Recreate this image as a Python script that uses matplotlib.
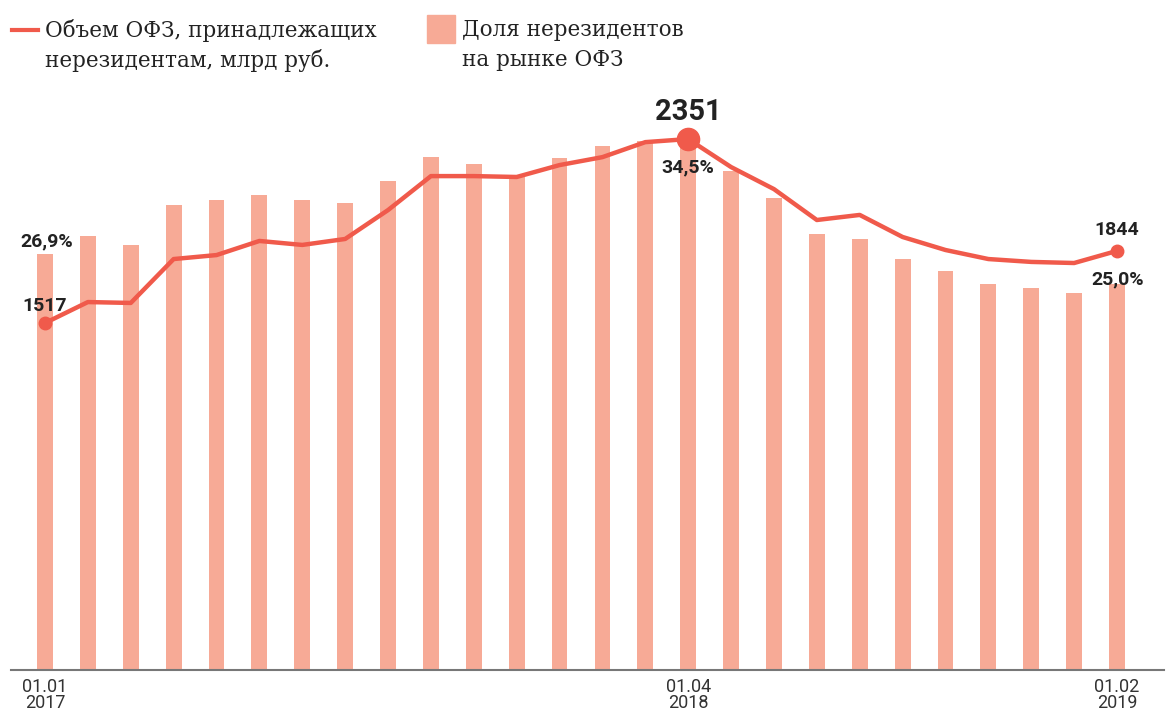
import matplotlib
matplotlib.use('agg')
import matplotlib.pyplot as plt
import numpy as np
from matplotlib.lines import Line2D
from matplotlib.patches import Rectangle

# monthly points 01.01.2017 .. 01.02.2019
months = np.arange(26)
share = [26.9, 28.1, 27.5, 30.1, 30.4, 30.7, 30.4, 30.2, 31.6, 33.2, 32.7, 31.9, 33.1,
         33.9, 34.2, 34.5, 32.3, 30.5, 28.2, 27.9, 26.6, 25.8, 25.0, 24.7, 24.4, 25.0]
volume = [1517, 1612, 1608, 1807, 1825, 1889, 1871, 1898, 2029, 2183, 2183, 2179, 2233,
          2269, 2337, 2351, 2224, 2124, 1984, 2007, 1907, 1848, 1807, 1794, 1789, 1844]
tick_pos = [0, 15, 25]
tick_labels = ['01.01\n2017', '01.04\n2018', '01.02\n2019']

LINE = '#F05A4B'
BAR = '#F7AA96'
W, H = 1166, 711

fig = plt.figure(figsize=(W / 100, H / 100), dpi=100)
ax = fig.add_axes([11 / W, 41 / H, 1153 / W, 570 / H])
ax2 = ax.twinx()

ax.bar(months, share, width=0.37, color=BAR, zorder=1)
ax.set_xlim(-0.793, 26.096)
ax.set_ylim(0, 36.87)
ax2.set_ylim(-56, 2528)

ax2.plot(months, volume, color=LINE, lw=3.2, solid_joinstyle='round', zorder=3)
ax2.plot([months[0], months[-1]], [volume[0], volume[-1]], 'o', color=LINE, ms=9, zorder=4)
ax2.plot([months[15]], [volume[15]], 'o', color=LINE, ms=16, zorder=4)

for a in (ax, ax2):
    for s in a.spines.values():
        s.set_visible(False)
    a.set_yticks([])
ax.spines['bottom'].set_visible(True)
ax.spines['bottom'].set_color('#777777')
ax.spines['bottom'].set_linewidth(1.5)
ax.spines['bottom'].set_zorder(5)

ax.set_xticks(tick_pos)
ax.set_xticklabels(tick_labels, family=['Roboto', 'DejaVu Sans'],
                   fontsize=13, color='#333333', linespacing=0.85)
ax.tick_params(axis='x', length=0, pad=6)

lab = dict(family=['Roboto', 'DejaVu Sans'], fontweight='bold', color='#222222',
           ha='center', va='center', textcoords='offset pixels', zorder=6)
ax2.annotate('1517', (0, volume[0]), xytext=(0, 17), fontsize=14, **lab)
ax2.annotate('2351', (15, volume[15]), xytext=(0, 27), fontsize=21, **lab)
ax2.annotate('1844', (25, volume[25]), xytext=(0, 21), fontsize=14, **lab)
ax.annotate('26,9%', (0, share[0]), xytext=(2, 13), fontsize=14, **lab)
ax2.annotate('34,5%', (15, volume[15]), xytext=(0, -28), fontsize=14, **lab)
ax.annotate('25,0%', (25, share[25]), xytext=(1, 4), fontsize=14, **lab)

# legend
tr = fig.transFigure
leg_font = dict(family=['DejaVu Serif'], fontsize=15.5, color='#222222', va='center')
fig.add_artist(Line2D([12 / W, 38 / W], [1 - 30 / H, 1 - 30 / H], color=LINE, lw=3, transform=tr))
fig.text(45 / W, 1 - 30 / H, 'Объем ОФЗ, принадлежащих', **leg_font)
fig.text(45 / W, 1 - 60 / H, 'нерезидентам, млрд руб.', **leg_font)
fig.add_artist(Rectangle((427 / W, 1 - 43 / H), 28 / W, 28 / H, color=BAR, transform=tr))
fig.text(462 / W, 1 - 30 / H, 'Доля нерезидентов', **leg_font)
fig.text(462 / W, 1 - 60 / H, 'на рынке ОФЗ', **leg_font)

fig.savefig('out.png', dpi=100)
